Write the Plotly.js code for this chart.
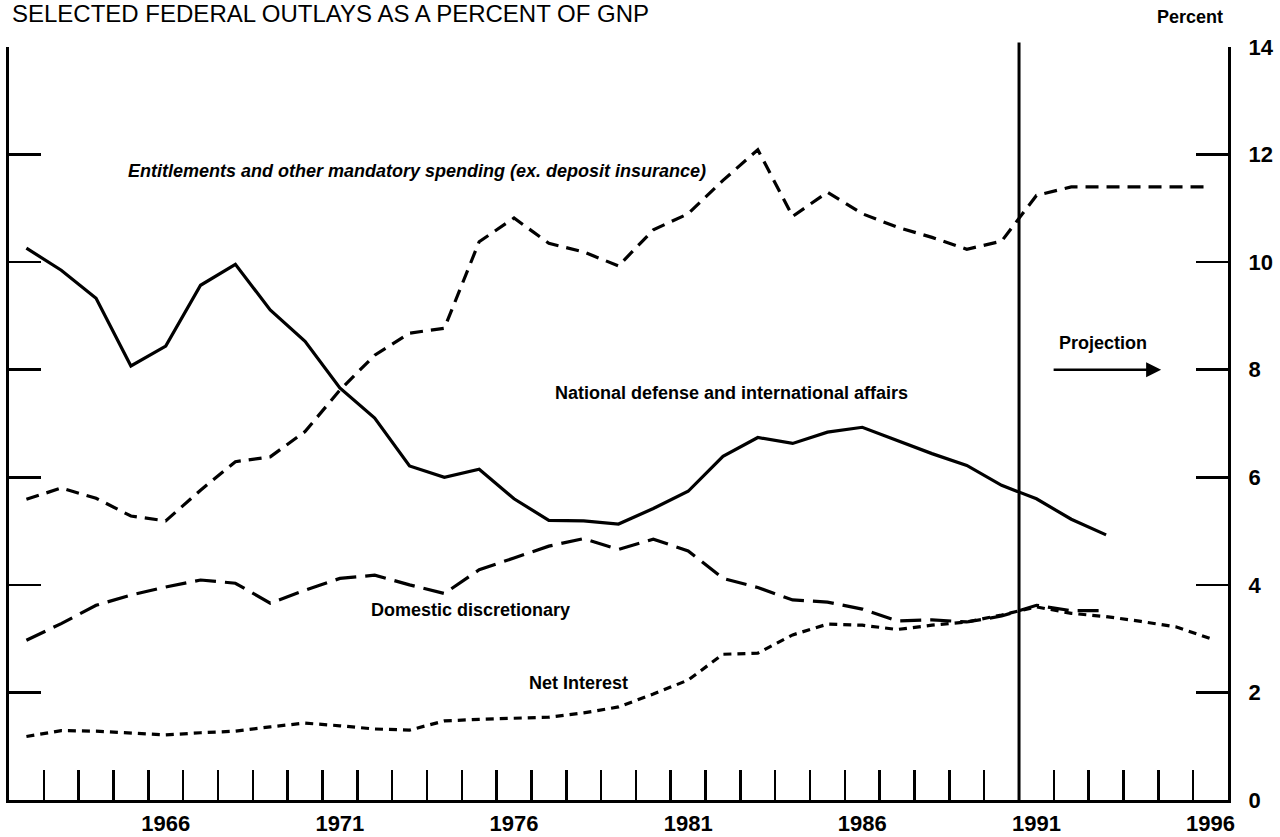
<!DOCTYPE html>
<html>
<head>
<meta charset="utf-8">
<script src="https://cdn.plot.ly/plotly-3.0.1.min.js"></script>
<style>html,body{margin:0;padding:0;background:#fff;}#chart{width:1280px;height:837px;}</style>
</head>
<body>
<div id="chart"></div>
<script>
var years = [1962,1963,1964,1965,1966,1967,1968,1969,1970,1971,1972,1973,1974,1975,1976,1977,1978,1979,1980,1981,1982,1983,1984,1985,1986,1987,1988,1989,1990,1991,1992,1993,1994,1995,1996];
var defense = [10.26,9.85,9.33,8.07,8.44,9.57,9.96,9.11,8.53,7.66,7.10,6.21,6.00,6.15,5.60,5.20,5.19,5.13,5.42,5.74,6.39,6.74,6.63,6.84,6.93,6.69,6.44,6.22,5.85,5.60,5.22,4.93,null,null,null];
var entitlements = [5.59,5.80,5.61,5.28,5.19,5.76,6.29,6.38,6.85,7.62,8.27,8.68,8.77,10.38,10.82,10.35,10.19,9.93,10.60,10.90,11.52,12.09,10.85,11.30,10.90,10.65,10.46,10.24,10.39,11.24,11.40,11.40,11.40,11.40,11.40];
var domestic = [2.97,3.28,3.62,3.81,3.96,4.09,4.03,3.66,3.90,4.12,4.18,4.00,3.84,4.28,4.50,4.72,4.86,4.66,4.85,4.63,4.12,3.95,3.72,3.68,3.55,3.33,3.35,3.31,3.42,3.62,3.52,3.52,null,null,null];
var netInterest = [1.18,1.29,1.28,1.24,1.21,1.25,1.28,1.36,1.43,1.38,1.32,1.30,1.47,1.50,1.52,1.54,1.62,1.73,1.97,2.23,2.71,2.73,3.07,3.27,3.25,3.17,3.25,3.31,3.44,3.59,3.47,3.41,3.32,3.22,3.00];
var yearLabels = [1966,1971,1976,1981,1986,1991,1996];
var percentTicks = [0,2,4,6,8,10,12,14];
var projectionStart = 1990.5;

var yearBoundaries = years.map(function(y){ return y + 0.5; }).slice(0, years.length - 1);

var FONT = 'Liberation Sans, Arial, Helvetica, sans-serif';

function series(name, vals, dash) {
  return {
    x: years, y: vals, name: name, type: 'scatter', mode: 'lines',
    line: {color: '#000', width: 3.2, dash: dash},
    connectgaps: false, hoverinfo: 'x+y+name'
  };
}

var data = [
  series('Entitlements and other mandatory spending (ex. deposit insurance)', entitlements, '13px,8px'),
  series('National defense and international affairs', defense, 'solid'),
  series('Domestic discretionary', domestic, '21px,9px'),
  series('Net Interest', netInterest, '8px,6px')
];

var layout = {
  width: 1280, height: 837,
  margin: {l: 9, r: 52, t: 47, b: 37, pad: 0},
  paper_bgcolor: '#fff', plot_bgcolor: '#fff',
  showlegend: false,
  title: {
    text: 'SELECTED FEDERAL OUTLAYS AS A PERCENT OF GNP',
    x: 12/1280, xanchor: 'left', xref: 'container',
    y: 1 - 5/837, yanchor: 'top', yref: 'container',
    pad: {t: 0, b: 0, l: 0, r: 0},
    font: {family: FONT, size: 24, color: '#000'}
  },
  xaxis: {
    range: [1961.5, 1996.5],
    showline: true, linecolor: '#000', linewidth: 3,
    showgrid: false, zeroline: false,
    tickmode: 'array', tickvals: yearLabels, ticktext: yearLabels.map(String),
    ticks: '',
    tickfont: {family: FONT, size: 22, color: '#000', weight: 700},
    ticklabelstandoff: 2,
    minor: {tickmode: 'array', tickvals: yearBoundaries, ticks: 'inside', ticklen: 30, tickwidth: 2.5, tickcolor: '#000', showgrid: false},
    fixedrange: true
  },
  yaxis: {
    range: [0, 14], side: 'right',
    showline: true, linecolor: '#000', linewidth: 3, mirror: 'ticks',
    showgrid: false, zeroline: false,
    tickmode: 'array', tickvals: percentTicks,
    ticks: 'inside', ticklen: 32, tickwidth: 2.5, tickcolor: '#000',
    tickfont: {family: FONT, size: 22, color: '#000', weight: 700},
    ticklabelstandoff: 13,
    fixedrange: true
  },
  shapes: [{
    type: 'line', xref: 'x', yref: 'paper',
    x0: projectionStart, x1: projectionStart, y0: 0, y1: 1.006,
    line: {color: '#000', width: 3}
  }],
  annotations: [
    {text: '<b><i>Entitlements and other mandatory spending (ex. deposit insurance)</i></b>', x: 1973.21, y: 11.69, xref: 'x', yref: 'y', showarrow: false, xanchor: 'center', yanchor: 'middle', font: {family: FONT, size: 18, color: '#000'}},
    {text: '<b>National defense and international affairs</b>', x: 1982.23, y: 7.57, xref: 'x', yref: 'y', showarrow: false, xanchor: 'center', yanchor: 'middle', font: {family: FONT, size: 18, color: '#000'}},
    {text: '<b>Domestic discretionary</b>', x: 1974.76, y: 3.53, xref: 'x', yref: 'y', showarrow: false, xanchor: 'center', yanchor: 'middle', font: {family: FONT, size: 18, color: '#000'}},
    {text: '<b>Net Interest</b>', x: 1977.84, y: 2.18, xref: 'x', yref: 'y', showarrow: false, xanchor: 'center', yanchor: 'middle', font: {family: FONT, size: 18, color: '#000'}},
    {text: '<b>Projection</b>', x: 1992.91, y: 8.5, xref: 'x', yref: 'y', showarrow: false, xanchor: 'center', yanchor: 'middle', font: {family: FONT, size: 18, color: '#000'}},
    {text: '', x: 1994.58, y: 8.0, xref: 'x', yref: 'y', ax: 1991.45, ay: 8.0, axref: 'x', ayref: 'y', showarrow: true, arrowhead: 2, arrowsize: 1.2, arrowwidth: 2.5, arrowcolor: '#000'},
    {text: '<b>Percent</b>', x: (1190-9)/1219, y: (800-17)/753, xref: 'paper', yref: 'paper', showarrow: false, xanchor: 'center', yanchor: 'middle', font: {family: FONT, size: 18, color: '#000'}}
  ]
};

Plotly.newPlot('chart', data, layout, {displayModeBar: false, staticPlot: true});
</script>
</body>
</html>
